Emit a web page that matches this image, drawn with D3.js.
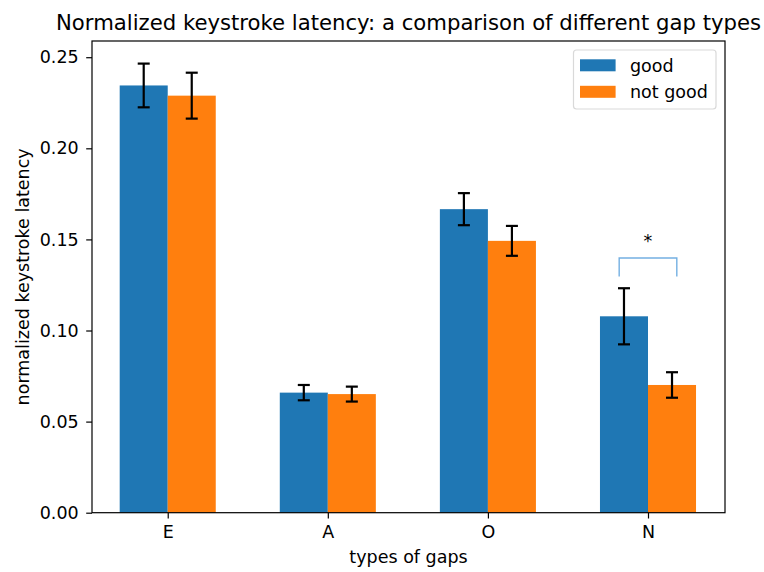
<!DOCTYPE html>
<html>
<head>
<meta charset="utf-8">
<script src="https://cdn.jsdelivr.net/npm/d3@7"></script>
<style>
  body { margin: 0; background: #fff; }
  svg { font-family: "DejaVu Sans", sans-serif; }
</style>
</head>
<body>
<div id="chart"></div>
<script>
const categories = ['E', 'A', 'O', 'N'];
const goodMeans = [0.2345, 0.0659, 0.1666, 0.1078];
const goodErr = [0.0120, 0.0042, 0.0088, 0.0154];
const notGoodMeans = [0.2289, 0.0651, 0.1492, 0.0701];
const notGoodErr = [0.0126, 0.0041, 0.0082, 0.0070];
const yTicks = [0, 0.05, 0.10, 0.15, 0.20, 0.25];

// significance marker over N
const sigCategory = 'N';
const sigTop = 0.1398;
const sigBottom = 0.1297;
const sigLabel = '*';

const width = 764, height = 572;
const margin = { top: 41, right: 39, bottom: 59.3, left: 92 };
const barW = 0.3;
const fs = 17.5;

const series = [
  { name: 'good', means: goodMeans, err: goodErr, color: '#1f77b4', offset: -barW },
  { name: 'not good', means: notGoodMeans, err: notGoodErr, color: '#ff7f0e', offset: 0 }
];

const svg = d3.select('#chart').append('svg')
  .attr('width', width)
  .attr('height', height);

const x = d3.scaleLinear()
  .domain([-0.473, 3.481])
  .range([margin.left, width - margin.right]);

const y = d3.scaleLinear()
  .domain([0, 0.2589])
  .range([height - margin.bottom, margin.top]);

// bars
series.forEach(s => {
  svg.append('g').selectAll('rect')
    .data(categories)
    .enter().append('rect')
    .attr('x', (d, i) => x(i + s.offset))
    .attr('width', x(barW) - x(0))
    .attr('y', (d, i) => y(s.means[i]))
    .attr('height', (d, i) => y(0) - y(s.means[i]))
    .attr('fill', s.color);
});

// error bars
series.forEach(s => {
  const g = svg.append('g').attr('stroke', '#000').attr('stroke-width', 2.2);
  categories.forEach((c, i) => {
    const cx = x(i + s.offset + barW / 2);
    const lo = y(s.means[i] - s.err[i]);
    const hi = y(s.means[i] + s.err[i]);
    g.append('line').attr('x1', cx).attr('x2', cx).attr('y1', lo).attr('y2', hi);
    g.append('line').attr('x1', cx - 6).attr('x2', cx + 6).attr('y1', lo).attr('y2', lo);
    g.append('line').attr('x1', cx - 6).attr('x2', cx + 6).attr('y1', hi).attr('y2', hi);
  });
});

// significance bracket
const si = categories.indexOf(sigCategory);
svg.append('path')
  .attr('d', d3.line()([
    [x(si - 0.18), y(sigBottom)],
    [x(si - 0.18), y(sigTop)],
    [x(si + 0.18), y(sigTop)],
    [x(si + 0.18), y(sigBottom)]
  ]))
  .attr('fill', 'none')
  .attr('stroke', '#74b0e2')
  .attr('stroke-width', 1.4);

svg.append('text')
  .attr('x', x(si))
  .attr('y', y(sigTop) - 11)
  .attr('text-anchor', 'middle')
  .attr('font-size', fs)
  .text(sigLabel);

// axes
const xAxis = svg.append('g')
  .attr('transform', `translate(0,${y(0)})`)
  .call(d3.axisBottom(x).tickValues(d3.range(categories.length))
    .tickFormat(i => categories[i]).tickSizeOuter(0).tickSize(5.8).tickPadding(7.5));

const yAxis = svg.append('g')
  .attr('transform', `translate(${x.range()[0]},0)`)
  .call(d3.axisLeft(y).tickValues(yTicks).tickFormat(d3.format('.2f'))
    .tickSizeOuter(0).tickSize(5.8).tickPadding(7.5));

[xAxis, yAxis].forEach(a => {
  a.select('.domain').remove();
  a.selectAll('.tick line').attr('stroke', '#000').attr('stroke-width', 1.2);
  a.selectAll('.tick text').attr('font-size', fs).attr('fill', '#000')
    .attr('font-family', '"DejaVu Sans", sans-serif');
});

// frame
svg.append('rect')
  .attr('x', x.range()[0])
  .attr('y', y.range()[1])
  .attr('width', x.range()[1] - x.range()[0])
  .attr('height', y.range()[0] - y.range()[1])
  .attr('fill', 'none')
  .attr('stroke', '#000')
  .attr('stroke-width', 1.2);

// labels
svg.append('text')
  .attr('x', (x.range()[0] + x.range()[1]) / 2)
  .attr('y', 29.5)
  .attr('text-anchor', 'middle')
  .attr('font-size', 21.2)
  .text('Normalized keystroke latency: a comparison of different gap types');

svg.append('text')
  .attr('x', (x.range()[0] + x.range()[1]) / 2)
  .attr('y', 563)
  .attr('text-anchor', 'middle')
  .attr('font-size', fs)
  .text('types of gaps');

svg.append('text')
  .attr('transform', `translate(29,${(y.range()[0] + y.range()[1]) / 2}) rotate(-90)`)
  .attr('text-anchor', 'middle')
  .attr('font-size', fs)
  .text('normalized keystroke latency');

// legend
const legend = svg.append('g');
legend.append('rect')
  .attr('x', 573.5).attr('y', 50)
  .attr('width', 142.5).attr('height', 59)
  .attr('rx', 3)
  .attr('fill', '#fff')
  .attr('stroke', '#d9d9d9')
  .attr('stroke-width', 1.2);
series.forEach((s, i) => {
  legend.append('rect')
    .attr('x', 580).attr('y', 59.3 + i * 26.5)
    .attr('width', 35.6).attr('height', 12)
    .attr('fill', s.color);
  legend.append('text')
    .attr('x', 630).attr('y', 71.8 + i * 26.5)
    .attr('font-size', fs)
    .text(s.name);
});
</script>
</body>
</html>
